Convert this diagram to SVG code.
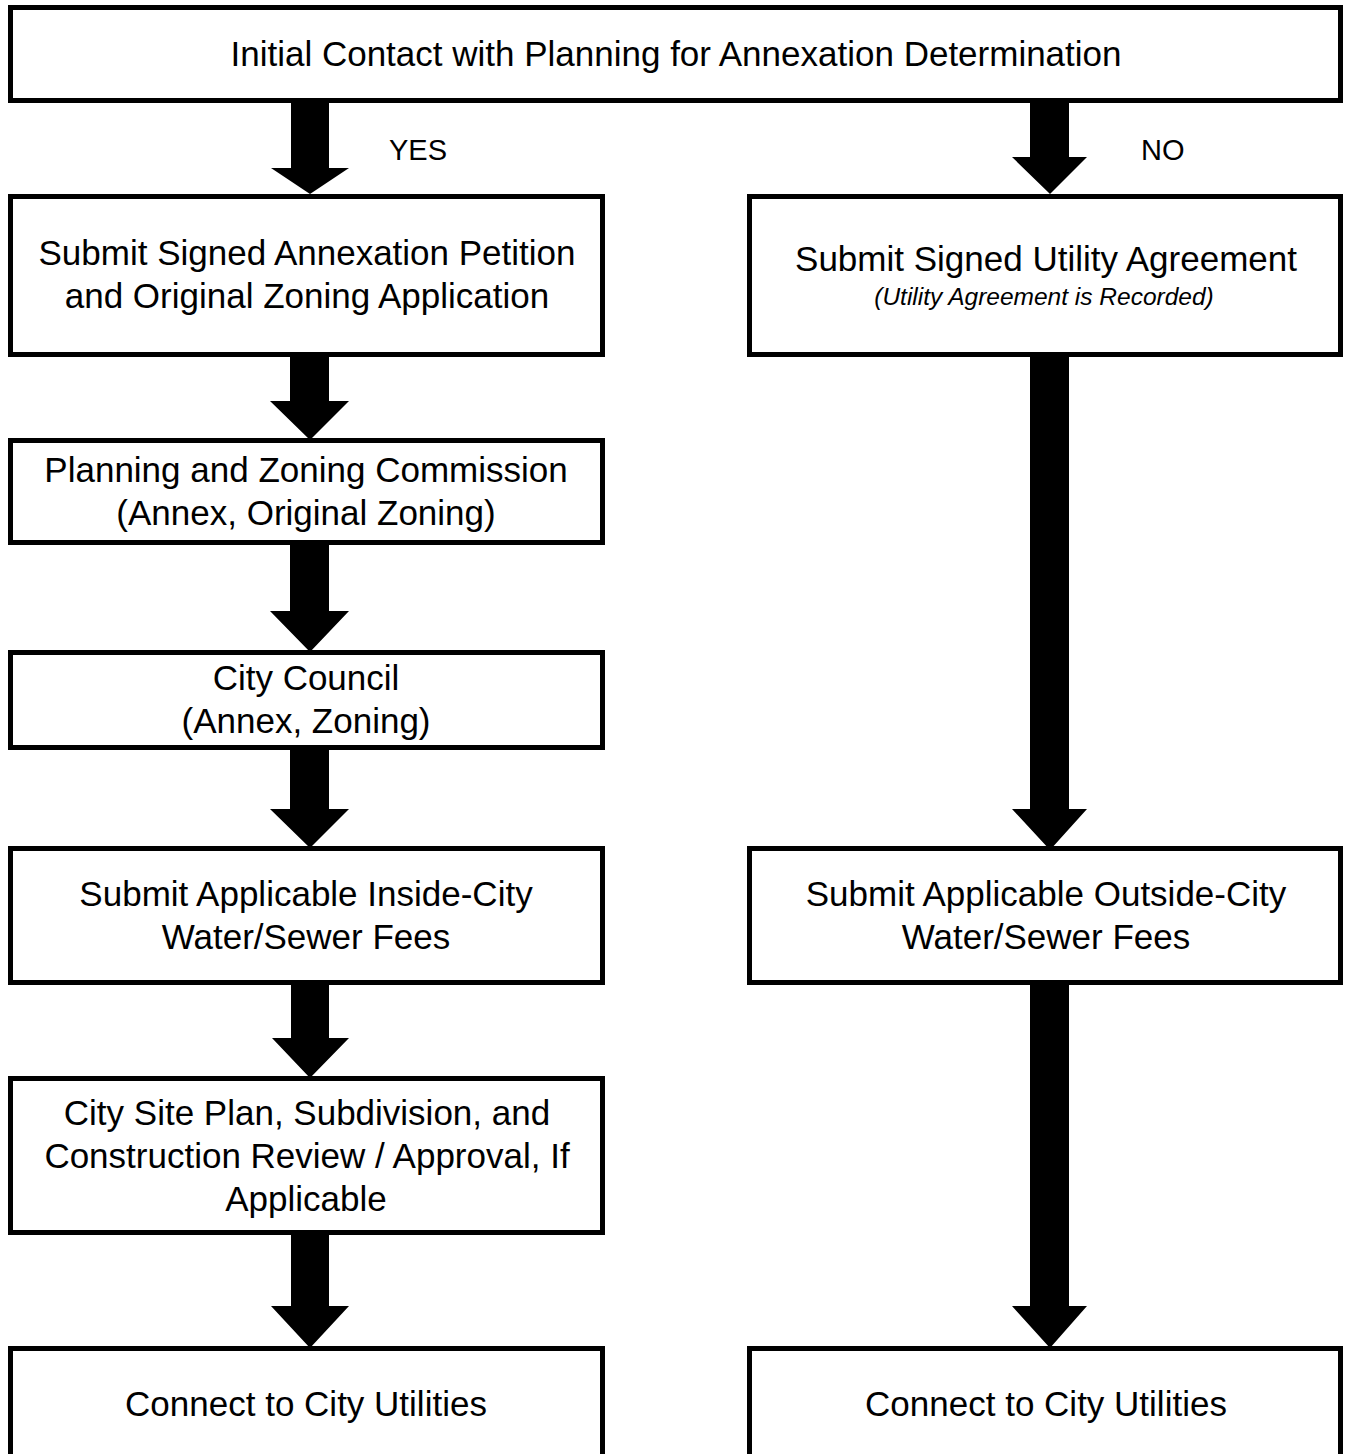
<svg xmlns="http://www.w3.org/2000/svg" width="1346" height="1454" viewBox="0 0 1346 1454">
  <style>
    .box { fill: #ffffff; stroke: #000000; stroke-width: 5; }
    .arrow { fill: #000000; stroke: none; }
    text { font-family: "Liberation Sans", Arial, sans-serif; fill: #000000; text-anchor: middle; }
    .main { font-size: 35px; }
    .note { font-size: 24.5px; font-style: italic; }
    .label { font-size: 29px; text-anchor: start; }
  </style>
  <rect width="1346" height="1454" fill="#ffffff"/>

  <!-- connectors: thick block arrows -->
  <g id="connectors">
    <polygon class="arrow" points="291,103 329,103 329,168 349,168 310,194 271,168 291,168"/>
    <polygon class="arrow" points="1030,103 1069,103 1069,157 1087,157 1050,194 1012,157 1030,157"/>
    <polygon class="arrow" points="290,355 329,355 329,401 349,401 310,440 270,401 290,401"/>
    <polygon class="arrow" points="290,543 329,543 329,611 349,611 310,652 270,611 290,611"/>
    <polygon class="arrow" points="290,748 329,748 329,809 349,809 310,848 270,809 290,809"/>
    <polygon class="arrow" points="291,983 329,983 329,1038 349,1038 310,1078 272,1038 291,1038"/>
    <polygon class="arrow" points="291,1233 329,1233 329,1306 349,1306 310,1348 271,1306 291,1306"/>
    <polygon class="arrow" points="1030,355 1069,355 1069,809 1087,809 1050,850 1012,809 1030,809"/>
    <polygon class="arrow" points="1030,983 1069,983 1069,1306 1087,1306 1050,1348 1012,1306 1030,1306"/>
    <text class="label" x="389" y="160">YES</text>
    <text class="label" x="1141" y="160">NO</text>
  </g>

  <g id="start">
    <rect class="box" x="10.5" y="7.5" width="1330" height="93"/>
    <text class="main" x="676" y="66">Initial Contact with Planning for Annexation Determination</text>
  </g>

  <g id="annexation-petition">
    <rect class="box" x="10.5" y="196.5" width="592" height="158"/>
    <text class="main" x="307" y="265">Submit Signed Annexation Petition</text>
    <text class="main" x="307" y="308">and Original Zoning Application</text>
  </g>

  <g id="utility-agreement">
    <rect class="box" x="749.5" y="196.5" width="591" height="158"/>
    <text class="main" x="1046" y="271">Submit Signed Utility Agreement</text>
    <text class="note" x="1044" y="305">(Utility Agreement is Recorded)</text>
  </g>

  <g id="planning-zoning">
    <rect class="box" x="10.5" y="440.5" width="592" height="102"/>
    <text class="main" x="306" y="482">Planning and Zoning Commission</text>
    <text class="main" x="306" y="525">(Annex, Original Zoning)</text>
  </g>

  <g id="city-council">
    <rect class="box" x="10.5" y="652.5" width="592" height="95"/>
    <text class="main" x="306" y="690">City Council</text>
    <text class="main" x="306" y="733">(Annex, Zoning)</text>
  </g>

  <g id="inside-fees">
    <rect class="box" x="10.5" y="848.5" width="592" height="134"/>
    <text class="main" x="306" y="906">Submit Applicable Inside-City</text>
    <text class="main" x="306" y="949">Water/Sewer Fees</text>
  </g>

  <g id="outside-fees">
    <rect class="box" x="749.5" y="848.5" width="591" height="134"/>
    <text class="main" x="1046" y="906">Submit Applicable Outside-City</text>
    <text class="main" x="1046" y="949">Water/Sewer Fees</text>
  </g>

  <g id="site-plan-review">
    <rect class="box" x="10.5" y="1078.5" width="592" height="154"/>
    <text class="main" x="307" y="1125">City Site Plan, Subdivision, and</text>
    <text class="main" x="307" y="1168">Construction Review / Approval, If</text>
    <text class="main" x="306" y="1211">Applicable</text>
  </g>

  <g id="connect-inside">
    <rect class="box" x="10.5" y="1348.5" width="592" height="130"/>
    <text class="main" x="306" y="1416">Connect to City Utilities</text>
  </g>

  <g id="connect-outside">
    <rect class="box" x="749.5" y="1348.5" width="591" height="130"/>
    <text class="main" x="1046" y="1416">Connect to City Utilities</text>
  </g>
</svg>
